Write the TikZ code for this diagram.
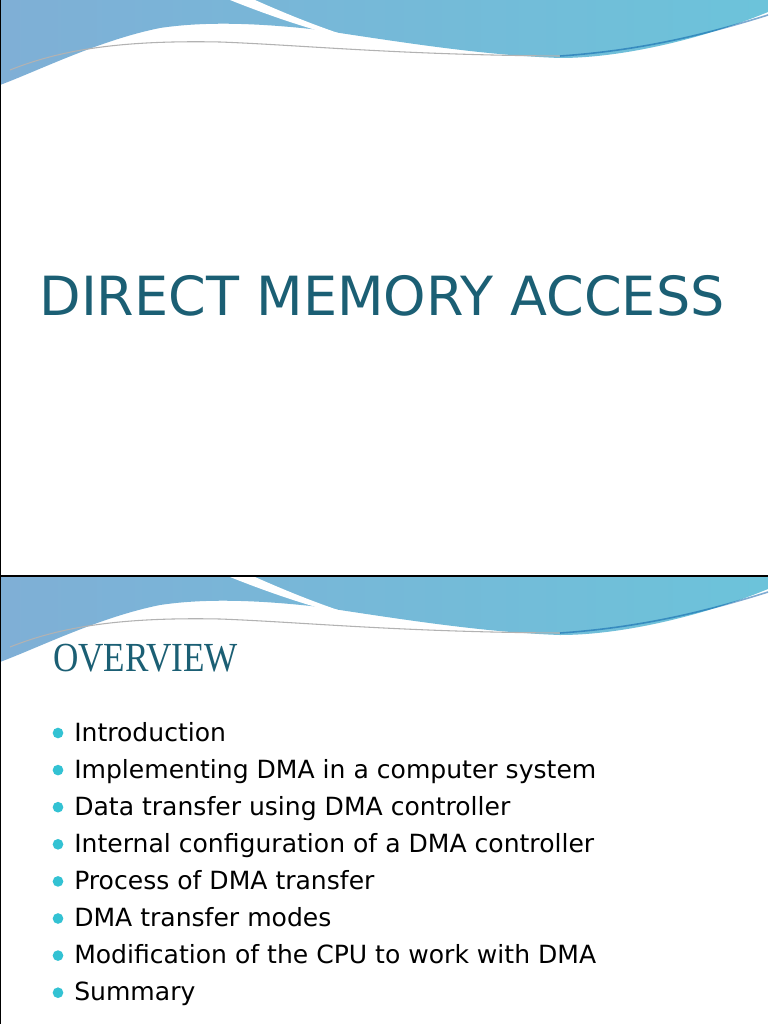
\documentclass[tikz,border=0pt]{standalone}
\usepackage{fontspec}
\setmainfont{DejaVu Sans}
\newfontfamily\serifttl{Liberation Serif}
\definecolor{ttl}{HTML}{1B5F74}
\definecolor{wblue}{HTML}{6CC3DA}
\definecolor{wdark}{HTML}{7FAFD6}
\definecolor{bul}{HTML}{33C2D3}
\tikzset{
  bullettxt/.style={anchor=base west,font=\fontsize{18.8}{22}\selectfont,inner sep=0pt},
  dot/.style={circle,fill=bul,inner sep=0pt,minimum size=8pt}
}
\newcommand\waveheader{%
  \shade[left color=wdark,right color=wblue] (0,0) -- (768,0) -- (768,12) .. controls (700,40) and (620,58) .. (560,58)
    .. controls (480,55) and (400,42) .. (320,30) .. controls (250,22) and (200,22) .. (160,28) .. controls (100,40) and (40,70) .. (0,85) -- cycle;
  \fill[white] (230,0) -- (255,0) .. controls (300,20) and (340,35) .. (380,46) .. controls (330,36) and (280,20) .. cycle;
  \draw[gray!60,line width=0.8pt] (10,70) .. controls (60,50) and (120,40) .. (220,42) .. controls (300,45) and (400,55) .. (560,56);
  \draw[teal!70!blue,line width=1.2pt,opacity=0.5] (560,56) .. controls (650,50) and (720,30) .. (768,15);
}
\begin{document}
\begin{tikzpicture}[x=0.75pt,y=-0.75pt]
\useasboundingbox (0,0) rectangle (768,1024);
\fill[white] (0,0) rectangle (768,1024);
% slide 1
\begin{scope}
\waveheader
\end{scope}
\node[font=\fontsize{40.5}{46}\selectfont,text=ttl,inner sep=0pt] (title) at (382,296) {DIRECT MEMORY ACCESS};
\draw[black,line width=0.8pt] (0,0) -- (0,576);
\draw[black,line width=0.8pt] (0,576) -- (768,576);
% slide 2
\begin{scope}[shift={(0,577)}]
\waveheader
\end{scope}
\draw[black,line width=0.8pt] (0,577) -- (0,1024);
\node[font=\serifttl\fontsize{31}{34}\selectfont,text=ttl,anchor=west,inner sep=0pt,xscale=0.85] (ov) at (53,658) {OVERVIEW};
\foreach \t [count=\i] in {Introduction,Implementing DMA in a computer system,Data transfer using DMA controller,Internal configuration of a DMA controller,Process of DMA transfer,DMA transfer modes,Modification of the CPU to work with DMA,Summary}{
  \node[dot] (d\i) at (58,{733+(\i-1)*37.1}) {};
  \node[bullettxt] (b\i) at (74,{741+(\i-1)*37.1}) {\t};
}
\end{tikzpicture}
\end{document}
